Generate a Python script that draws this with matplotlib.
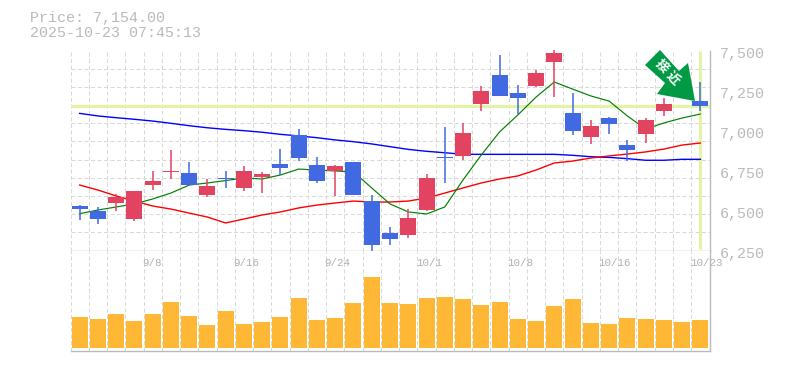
import matplotlib
matplotlib.use('Agg')
import matplotlib.pyplot as plt
from matplotlib.patches import Polygon
from matplotlib.transforms import IdentityTransform, ScaledTranslation
import numpy as np

opens = [6528, 6497, 6547, 6447, 6659, 6741, 6734, 6597, 6703, 6641, 6709, 6791, 6972, 6784, 6747, 6803, 6559, 6359,
         6347, 6503, 6834, 6841, 7166, 7347, 7234, 7278, 7428, 7109, 6959, 7078, 6909, 6978, 7122, 7303, 7184]
highs = [6534, 6522, 6603, 6622, 6747, 6878, 6803, 6697, 6747, 6778, 6741, 6884, 7009, 6834, 6784, 6803, 6597, 6397,
         6509, 6728, 7022, 7047, 7278, 7472, 7284, 7378, 7503, 7234, 7066, 7084, 6941, 7078, 7203, 7340, 7303]
lows = [6441, 6416, 6497, 6434, 6628, 6697, 6659, 6584, 6641, 6622, 6609, 6722, 6809, 6672, 6591, 6597, 6247, 6284,
        6328, 6497, 6672, 6816, 7122, 7216, 7103, 7272, 7209, 6972, 6916, 6978, 6809, 6922, 7091, 7216, 7122]
closes = [6509, 6447, 6584, 6622, 6684, 6747, 6659, 6653, 6697, 6747, 6728, 6766, 6828, 6684, 6778, 6597, 6284, 6322,
          6453, 6703, 6828, 6984, 7247, 7216, 7203, 7359, 7484, 6997, 7028, 7041, 6878, 7066, 7166, 7253, 7154]
ma_short = [6480, 6503, 6522, 6541, 6572, 6609, 6659, 6672, 6687, 6703, 6697, 6722, 6759, 6753, 6747, 6741, 6641, 6541,
            6491, 6478, 6522, 6691, 6847, 6991, 7097, 7209, 7303, 7259, 7216, 7184, 7091, 7009, 7047, 7078, 7103]
ma_mid = [6659, 6628, 6591, 6559, 6528, 6509, 6484, 6459, 6422, 6447, 6472, 6491, 6516, 6534, 6547, 6559, 6553, 6553,
          6559, 6578, 6609, 6641, 6672, 6697, 6716, 6753, 6797, 6809, 6828, 6841, 6853, 6866, 6884, 6909, 6922]
ma_long = [7107, 7091, 7080, 7070, 7059, 7045, 7030, 7017, 7007, 6999, 6989, 6976, 6966, 6955, 6941, 6930, 6916, 6899,
           6882, 6870, 6861, 6851, 6851, 6851, 6851, 6851, 6851, 6845, 6836, 6832, 6824, 6814, 6814, 6820, 6820]
volume = [307, 287, 337, 267, 337, 457, 317, 227, 367, 237, 257, 307, 497, 277, 297, 447, 707, 447,
          437, 497, 507, 487, 427, 457, 287, 267, 417, 487, 247, 237, 297, 287, 277, 257, 277]
price_ticks = [6250, 6500, 6750, 7000, 7250, 7500]
price_labels = ['6,250', '6,500', '6,750', '7,000', '7,250', '7,500']
date_idx = [4, 9, 14, 19, 24, 29, 34]
date_labels = ['9/8', '9/16', '9/24', '10/1', '10/8', '10/16', '10/23']
last_price = 7154

RED = '#e24360'
BLUE = '#4169e1'
GRAY = '#bababa'
GRID = '#d8d8d8'
MONO = 'Liberation Mono'
CJK = ['Noto Sans CJK JP', 'DejaVu Sans']

W, H = 785, 370
fig = plt.figure(figsize=(W / 100, H / 100), dpi=100)
ax = fig.add_axes([70.5 / W, 1 - 250.5 / H, 639 / W, 200 / H])
vol = fig.add_axes([70.5 / W, 1 - 350.5 / H, 639 / W, 100 / H], sharex=ax)

x = np.arange(len(closes)) + 0.5
ax.set_xlim(0, 35)
ax.set_ylim(6250, 7500)
vol.set_ylim(-28, 972)

for a in (ax, vol):
    a.set_xticks(np.arange(0, 36))
    a.grid(True, axis='x', color=GRID, lw=0.72, ls=(0, (4, 2.5)), zorder=0)
    a.set_axisbelow(True)
    a.tick_params(axis='x', length=0, labelbottom=False)
    a.spines['left'].set_visible(False)
    a.spines['top'].set_visible(False)
    a.spines['right'].set_color(GRAY)
    a.spines['bottom'].set_color(GRAY)
    a.spines['right'].set_linewidth(1)
    a.spines['bottom'].set_linewidth(1)

# horizontal grid does not line up with the price labels
ax.set_yticks(np.linspace(6250, 7500, 12), minor=True)
ax.grid(True, axis='y', which='minor', color=GRID, lw=0.72, ls=(0, (4, 2.5)), zorder=0)
ax.tick_params(axis='y', which='minor', length=0)
ax.yaxis.tick_right()
ax.set_yticks(price_ticks)
ax.set_yticklabels(price_labels, family=MONO, fontsize=10.8, color=GRAY)
ax.tick_params(axis='y', which='major', length=0, pad=7.5)
shift = ScaledTranslation(0, -2.2 / 100, fig.dpi_scale_trans)
for lab in ax.get_yticklabels():
    lab.set_transform(lab.get_transform() + shift)
    lab.set_clip_on(False)
vol.set_yticks([])

ax.axhline(last_price, color='#e3f5a5', lw=2.2, zorder=1)
ax.plot([x[-1], x[-1]], [6262, 7500], color='#e3f5a5', lw=2.2, zorder=1, solid_capstyle='butt')

ax.plot(x, ma_long, color='#0000ff', lw=1, zorder=2)
ax.plot(x, ma_mid, color='#ff0000', lw=1, zorder=2)
ax.plot(x, ma_short, color='#008000', lw=0.85, zorder=2)

for i in range(len(closes)):
    col = RED if closes[i] >= opens[i] else BLUE
    ax.vlines(x[i], lows[i], highs[i], color=col, lw=1.1, zorder=3, clip_on=False)
    ax.bar(x[i], abs(closes[i] - opens[i]), bottom=min(opens[i], closes[i]), width=16 / 18.26, color=col,
           linewidth=0, zorder=3)

vol.bar(x, volume, width=16 / 18.26, color='#ffb835', linewidth=0, zorder=3)

for i, lab in zip(date_idx, date_labels):
    vol.annotate(lab, xy=(x[i], 1), xycoords=('data', 'axes fraction'), xytext=(-10.5, -12),
                 textcoords='offset pixels', ha='left', va='center', family=MONO, fontsize=7.8, color='#b0b0b0',
                 annotation_clip=False)

# signal arrow, outline in image pixels (y from the top)
arrow_px = [(660, 50), (645, 65), (665, 83), (657, 94), (695, 101), (688, 63), (679, 71)]
ax.add_patch(Polygon([(px, H - py) for px, py in arrow_px], closed=True, transform=IdentityTransform(),
                     facecolor='#009944', edgecolor='none', zorder=5, clip_on=False))
fig.text(662 / W, 1 - 66 / H, '接', family=CJK, fontsize=9.5, fontweight='bold', color='white', rotation=-45,
         ha='center', va='center', zorder=6)
fig.text(673.5 / W, 1 - 78 / H, '近', family=CJK, fontsize=9.5, fontweight='bold', color='white', rotation=-45,
         ha='center', va='center', zorder=6)

fig.text(30 / W, 1 - 18 / H, 'Price: 7,154.00', family=MONO, fontsize=10.8, color=GRAY, va='center')
fig.text(30 / W, 1 - 33 / H, '2025-10-23 07:45:13', family=MONO, fontsize=10.8, color=GRAY, va='center')

fig.savefig('out.png', dpi=100)
